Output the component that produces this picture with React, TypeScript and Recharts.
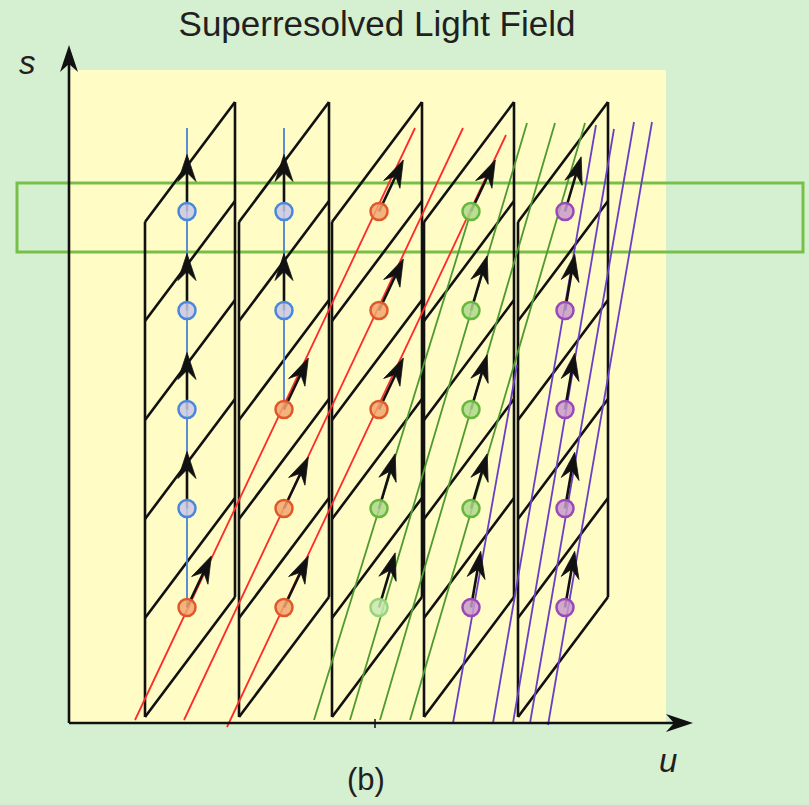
import React from 'react';
import { ComposedChart, XAxis, YAxis, ReferenceLine, ReferenceArea, Scatter } from 'recharts';

const W = 809;
const H = 805;

// Sheared sampling columns (u of the left edge of each column)
const columnLeft = [76, 170, 263, 355, 449];
const columnWidth = 90;
const columnBase = 6;
const cellHeight = 99;
const columnRise = 120;
const cellCount = 5;

// Sample (circle) centres
const circleU = [118, 215, 310, 402, 496];
const circleS = [115.5, 214.5, 313.5, 412.5, 511.5];
const circleColors = [
  ['red', 'blue', 'blue', 'blue', 'blue'],
  ['red', 'red', 'red', 'blue', 'blue'],
  ['lgreen', 'green', 'red', 'red', 'red'],
  ['purple', 'green', 'green', 'green', 'green'],
  ['purple', 'purple', 'purple', 'purple', 'purple'],
];
const arrowFamily = [
  ['red', 'blue', 'blue', 'blue', 'blue'],
  ['red', 'red', 'red', 'blue', 'blue'],
  ['green', 'green', 'red', 'red', 'red'],
  ['purple', 'green', 'green', 'green', 'red'],
  ['purple', 'purple', 'purple', 'purple', 'green'],
];
const familySlope: Record<string, number> = { blue: 0, red: 0.472, green: 0.296, purple: 0.173 };

// Rays (u1, s1) -> (u2, s2)
const blueRays = [
  [118, 115.5, 118, 595],
  [215, 313.5, 215, 595],
];
const redRays = [
  [66, 3, 346, 595],
  [115, 3, 394, 595],
  [158, -4, 437, 588],
];
const greenRays = [
  [245, 3, 402, 511.5],
  [281, 3, 458, 600],
  [311, 3, 486, 600],
  [341, 3, 516, 600],
];
const purpleRays = [
  [384, 0, 448, 358],
  [424, 0, 527, 598],
  [444, 0, 545, 594],
  [461, 0, 565, 601],
  [479, -2, 583, 601],
];

const labels = [
  { u: 308, s: 687, text: 'Superresolved Light Field', size: 35, italic: false, anchor: 'middle' },
  { u: -50, s: 649, text: 's', size: 33, italic: true, anchor: 'start' },
  { u: 590, s: -49, text: 'u', size: 33, italic: true, anchor: 'start' },
  { u: 297, s: -67, text: '(b)', size: 31, italic: false, anchor: 'middle' },
];

const axisTips = [
  { u: 624, s: 0, dir: 'right' },
  { u: 0, s: 678, dir: 'up' },
];

const rayColor: Record<string, string> = {
  blue: '#4a80d8',
  red: '#ff2a2a',
  green: '#4e9a30',
  purple: '#6a3fc8',
};
const circleStyle: Record<string, { stroke: string; fill: string }> = {
  blue: { stroke: '#4a86dc', fill: '#c9c8e6' },
  red: { stroke: '#e0582a', fill: '#f2a470' },
  green: { stroke: '#64b83c', fill: '#aed88c' },
  lgreen: { stroke: '#94d47a', fill: '#c8e8b0' },
  purple: { stroke: '#9a48b8', fill: '#c89acb' },
};

type Seg = { x1: number; y1: number; x2: number; y2: number };
const columnSegments: Seg[] = [];
columnLeft.forEach((L) => {
  const R = L + columnWidth;
  columnSegments.push({ x1: L, y1: columnBase, x2: L, y2: columnBase + cellCount * cellHeight });
  columnSegments.push({
    x1: R,
    y1: columnBase + columnRise,
    x2: R,
    y2: columnBase + columnRise + cellCount * cellHeight,
  });
  for (let i = 0; i <= cellCount; i++) {
    columnSegments.push({
      x1: L,
      y1: columnBase + i * cellHeight,
      x2: R,
      y2: columnBase + columnRise + i * cellHeight,
    });
  }
});

const circles: any[] = [];
const arrows: any[] = [];
circleU.forEach((u, c) => {
  circleS.forEach((s, r) => {
    circles.push({ u, s, color: circleColors[c][r] });
    arrows.push({ u, s, k: familySlope[arrowFamily[c][r]] });
  });
});

const CircleShape = (props: any) => {
  const { cx, cy, payload } = props;
  const st = circleStyle[payload.color];
  return <circle cx={cx} cy={cy} r={8.5} fill={st.fill} fillOpacity={0.85} stroke={st.stroke} strokeWidth={2.5} />;
};

const ArrowShape = (props: any) => {
  const { cx, cy, payload } = props;
  const k = payload.k;
  const n = Math.hypot(k, 1);
  const dx = k / n;
  const dy = -1 / n;
  const len = 57;
  const tx = cx + dx * len;
  const ty = cy + dy * len;
  const px = -dy;
  const py = dx;
  const hl = 27;
  const hw = 9;
  const notch = 18;
  const bx = tx - dx * hl;
  const by = ty - dy * hl;
  const nx = tx - dx * notch;
  const ny = ty - dy * notch;
  return (
    <g>
      <line x1={cx} y1={cy} x2={nx} y2={ny} stroke="#111" strokeWidth={2.6} />
      <polygon
        points={`${tx},${ty} ${bx + px * hw},${by + py * hw} ${nx},${ny} ${bx - px * hw},${by - py * hw}`}
        fill="#111"
        stroke="#111"
        strokeWidth={0.8}
        strokeLinejoin="round"
      />
    </g>
  );
};

const AxisTipShape = (props: any) => {
  const { cx, cy, payload } = props;
  const right = payload.dir === 'right';
  const dx = right ? 1 : 0;
  const dy = right ? 0 : -1;
  const px = -dy;
  const py = dx;
  const hl = 27;
  const hw = 9;
  const notch = 19;
  const bx = cx - dx * hl;
  const by = cy - dy * hl;
  const nx = cx - dx * notch;
  const ny = cy - dy * notch;
  return (
    <polygon
      points={`${cx},${cy} ${bx + px * hw},${by + py * hw} ${nx},${ny} ${bx - px * hw},${by - py * hw}`}
      fill="#111"
    />
  );
};

const LabelShape = (props: any) => {
  const { cx, cy, payload } = props;
  return (
    <text
      x={cx}
      y={cy}
      textAnchor={payload.anchor}
      fontSize={payload.size}
      fontStyle={payload.italic ? 'italic' : 'normal'}
      fontFamily="'Liberation Sans', Arial, Helvetica, sans-serif"
      fill="#231f20"
    >
      {payload.text}
    </text>
  );
};

const rayGroups: [string, number[][]][] = [
  ['blue', blueRays],
  ['red', redRays],
  ['green', greenRays],
  ['purple', purpleRays],
];

export default function App() {
  return (
    <div style={{ position: 'absolute', left: 0, top: 0, width: W, height: H, background: '#d5f0d0' }}>
      <ComposedChart width={W} height={H} margin={{ top: 0, right: 0, bottom: 0, left: 0 }}>
        <XAxis type="number" dataKey="u" domain={[-69, 740]} allowDataOverflow hide />
        <YAxis type="number" dataKey="s" domain={[-82, 723]} allowDataOverflow hide />
        <ReferenceArea x1={0} x2={597} y1={0} y2={653} fill="#fffcc5" fillOpacity={1} stroke="none" ifOverflow="visible" />
        {columnSegments.map((g, i) => (
          <ReferenceLine
            key={'c' + i}
            segment={[{ x: g.x1, y: g.y1 }, { x: g.x2, y: g.y2 }]}
            stroke="#111"
            strokeWidth={2.6}
            ifOverflow="visible"
          />
        ))}
        {rayGroups.map(([fam, rays]) =>
          rays.map((r, i) => (
            <ReferenceLine
              key={fam + i}
              segment={[{ x: r[0], y: r[1] }, { x: r[2], y: r[3] }]}
              stroke={rayColor[fam]}
              strokeWidth={1.8}
              ifOverflow="visible"
            />
          ))
        )}
        <ReferenceLine segment={[{ x: 0, y: 0 }, { x: 610, y: 0 }]} stroke="#111" strokeWidth={2.6} ifOverflow="visible" />
        <ReferenceLine segment={[{ x: 0, y: 0 }, { x: 0, y: 665 }]} stroke="#111" strokeWidth={2.6} ifOverflow="visible" />
        <ReferenceLine segment={[{ x: 306, y: -5 }, { x: 306, y: 4 }]} stroke="#111" strokeWidth={1.5} ifOverflow="visible" />
        <Scatter data={arrows} shape={ArrowShape} isAnimationActive={false} />
        <Scatter data={circles} shape={CircleShape} isAnimationActive={false} />
        <ReferenceArea x1={-52} x2={734} y1={471} y2={540} fill="none" stroke="#78bf4a" strokeWidth={3} ifOverflow="visible" />
        <Scatter data={axisTips} shape={AxisTipShape} isAnimationActive={false} />
        <Scatter data={labels} shape={LabelShape} isAnimationActive={false} />
      </ComposedChart>
    </div>
  );
}
